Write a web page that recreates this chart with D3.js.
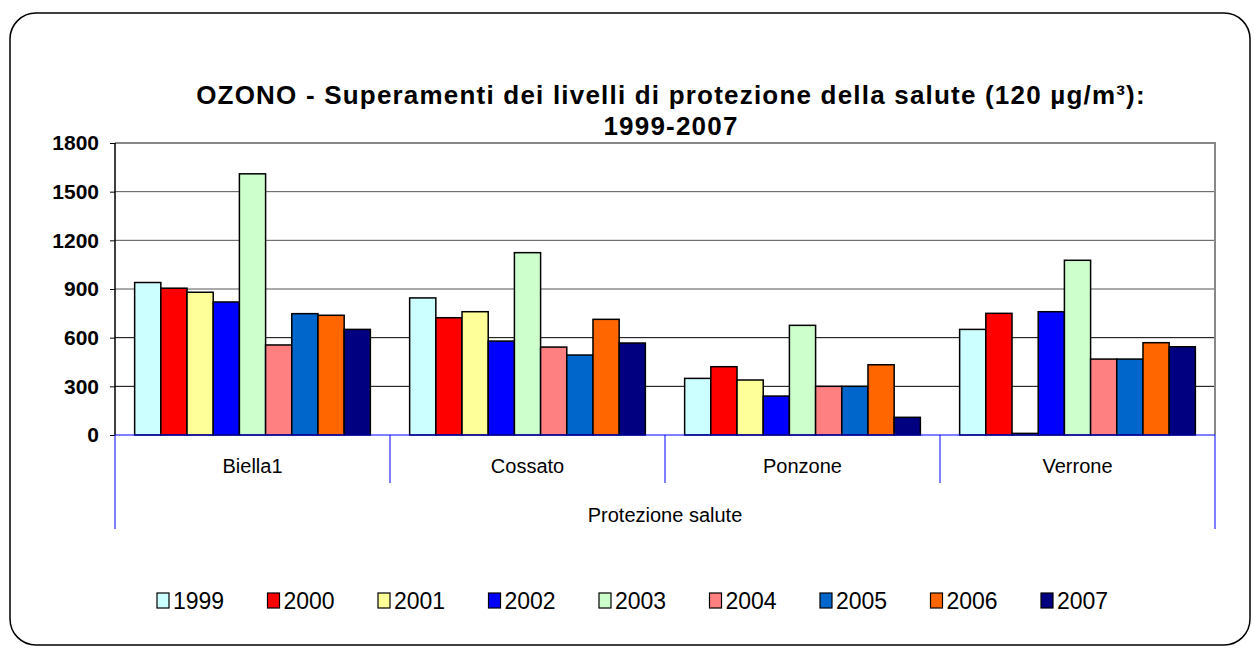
<!DOCTYPE html>
<html>
<head>
<meta charset="utf-8">
<script src="https://cdn.jsdelivr.net/npm/d3@7"></script>
<style>
  body { margin: 0; background: #fff; }
  svg { font-family: "Liberation Sans", Arial, sans-serif; }
  .bar { stroke: #000; stroke-width: 1.5; }
  .y-axis path { display: none; }
  .y-axis text { font-weight: bold; font-size: 21px; fill: #000; }
  .cat-label { font-size: 20px; fill: #000; }
  .legend text { font-size: 23px; fill: #000; }
  .title { font-weight: bold; font-size: 26px; letter-spacing: 1.2px; fill: #000; }
</style>
</head>
<body>
<svg id="chart"></svg>
<script>
// stations (first level of the category axis)
const stations = ['Biella1', 'Cossato', 'Ponzone', 'Verrone'];
const groupLabel = 'Protezione salute';
const years = ['1999', '2000', '2001', '2002', '2003', '2004', '2005', '2006', '2007'];
const yearColors = ['#CCFFFF', '#FF0000', '#FFFF99', '#0000FF', '#CCFFCC', '#FF8080', '#0066CC', '#FF6600', '#000080'];

// values per station, one per year
const biella1 = [940, 905, 880, 820, 1610, 555, 748, 738, 651];
const cossato = [845, 723, 760, 579, 1124, 542, 493, 713, 567];
const ponzone = [349, 421, 339, 240, 676, 300, 300, 433, 109];
const verrone = [651, 750, 10, 760, 1077, 468, 468, 569, 544];

const yTicks = [0, 300, 600, 900, 1200, 1500, 1800];
const titleLines = ['OZONO - Superamenti dei livelli di protezione della salute (120 µg/m³):', '1999-2007'];

class GroupedBars {
  constructor(_config, _data) {
    this.config = {
      parentElement: _config.parentElement,
      width: 1254,
      height: 649,
      plot: { left: 115, right: 1215, top: 143, bottom: 435 }
    };
    this.data = _data;
  }

  initVis() {
    let vis = this;
    const p = vis.config.plot;

    vis.svg = d3.select(vis.config.parentElement)
      .attr('width', vis.config.width)
      .attr('height', vis.config.height);

    // rounded chart frame
    vis.svg.append('rect')
      .attr('x', 10).attr('y', 13)
      .attr('width', 1240).attr('height', 632)
      .attr('rx', 26).attr('ry', 26)
      .attr('fill', '#fff')
      .attr('stroke', '#000')
      .attr('stroke-width', 1.5);

    vis.xScale = d3.scaleBand()
      .domain(stations)
      .range([p.left, p.right]);

    // 9 bars + gap of 1.5 bar widths per group
    const bw = vis.xScale.bandwidth() / 10.5;
    vis.xInner = d3.scaleBand()
      .domain(years)
      .range([0.75 * bw, vis.xScale.bandwidth() - 0.75 * bw])
      .padding(0);

    vis.yScale = d3.scaleLinear()
      .domain([0, 1800])
      .range([p.bottom, p.top]);

    vis.yAxis = d3.axisLeft(vis.yScale)
      .tickValues(yTicks)
      .tickFormat(d3.format('d'))
      .tickSize(5)
      .tickPadding(11);
  }

  updateVis() {
    let vis = this;
    vis.renderVis();
  }

  renderVis() {
    let vis = this;
    const p = vis.config.plot;

    // gridlines
    vis.svg.append('g')
      .selectAll('line')
      .data(yTicks.filter(d => d > 0 && d < 1800))
      .join('line')
      .attr('x1', p.left).attr('x2', p.right)
      .attr('y1', d => vis.yScale(d)).attr('y2', d => vis.yScale(d))
      .attr('stroke', d => d >= 900 ? '#555' : '#000')
      .attr('stroke-width', 1);

    // plot border top / right
    vis.svg.append('path')
      .attr('d', `M${p.left},${vis.yScale(1800)}H${p.right}V${p.bottom}`)
      .attr('fill', 'none')
      .attr('stroke', '#888')
      .attr('stroke-width', 2);

    // bars
    const groups = vis.svg.append('g')
      .selectAll('g')
      .data(vis.data)
      .join('g')
      .attr('transform', d => `translate(${vis.xScale(d.station)},0)`);

    groups.selectAll('rect')
      .data(d => d.values.map((v, i) => ({ year: years[i], value: v })))
      .join('rect')
      .attr('class', 'bar')
      .attr('x', d => vis.xInner(d.year))
      .attr('width', vis.xInner.bandwidth())
      .attr('y', d => vis.yScale(d.value))
      .attr('height', d => vis.yScale(0) - vis.yScale(d.value))
      .attr('fill', (d, i) => yearColors[i]);

    // y axis
    const yG = vis.svg.append('g')
      .attr('class', 'y-axis')
      .attr('transform', `translate(${p.left},0)`)
      .call(vis.yAxis);
    yG.selectAll('.tick line').attr('stroke', '#000');
    vis.svg.append('line')
      .attr('x1', p.left).attr('x2', p.left)
      .attr('y1', p.top).attr('y2', p.bottom)
      .attr('stroke', '#000').attr('stroke-width', 1.5);

    // category axis (blue, two levels)
    const axisBlue = '#0000FF';
    vis.svg.append('line')
      .attr('x1', p.left).attr('x2', p.right)
      .attr('y1', p.bottom).attr('y2', p.bottom)
      .attr('stroke', axisBlue).attr('stroke-width', 1.2);

    vis.svg.append('g')
      .selectAll('line')
      .data(stations.slice(1))
      .join('line')
      .attr('x1', d => vis.xScale(d)).attr('x2', d => vis.xScale(d))
      .attr('y1', p.bottom).attr('y2', 483)
      .attr('stroke', axisBlue).attr('stroke-width', 1);

    vis.svg.append('g')
      .selectAll('line')
      .data([p.left, p.right])
      .join('line')
      .attr('x1', d => d).attr('x2', d => d)
      .attr('y1', p.bottom).attr('y2', 529)
      .attr('stroke', axisBlue).attr('stroke-width', 1);

    vis.svg.append('g')
      .selectAll('text')
      .data(stations)
      .join('text')
      .attr('class', 'cat-label')
      .attr('x', d => vis.xScale(d) + vis.xScale.bandwidth() / 2)
      .attr('y', 473)
      .attr('text-anchor', 'middle')
      .text(d => d);

    vis.svg.append('text')
      .attr('class', 'cat-label')
      .attr('x', (p.left + p.right) / 2)
      .attr('y', 522)
      .attr('text-anchor', 'middle')
      .text(groupLabel);

    // title
    vis.svg.append('g')
      .selectAll('text')
      .data(titleLines)
      .join('text')
      .attr('class', 'title')
      .attr('x', 671)
      .attr('y', (d, i) => 104 + i * 31)
      .attr('text-anchor', 'middle')
      .text(d => d);

    // legend
    const legendX = d3.scalePoint()
      .domain(years)
      .range([157, 1041]);

    const legend = vis.svg.append('g')
      .attr('class', 'legend')
      .selectAll('g')
      .data(years)
      .join('g')
      .attr('transform', d => `translate(${legendX(d)},0)`);

    legend.append('rect')
      .attr('x', 0).attr('y', 593)
      .attr('width', 12).attr('height', 15)
      .attr('fill', (d, i) => yearColors[i])
      .attr('stroke', '#000').attr('stroke-width', 1.2);

    legend.append('text')
      .attr('x', 16).attr('y', 609)
      .text(d => d);
  }
}

const chartData = [
  { station: stations[0], values: biella1 },
  { station: stations[1], values: cossato },
  { station: stations[2], values: ponzone },
  { station: stations[3], values: verrone }
];

const chart = new GroupedBars({ parentElement: '#chart' }, chartData);
chart.initVis();
chart.updateVis();
</script>
</body>
</html>
